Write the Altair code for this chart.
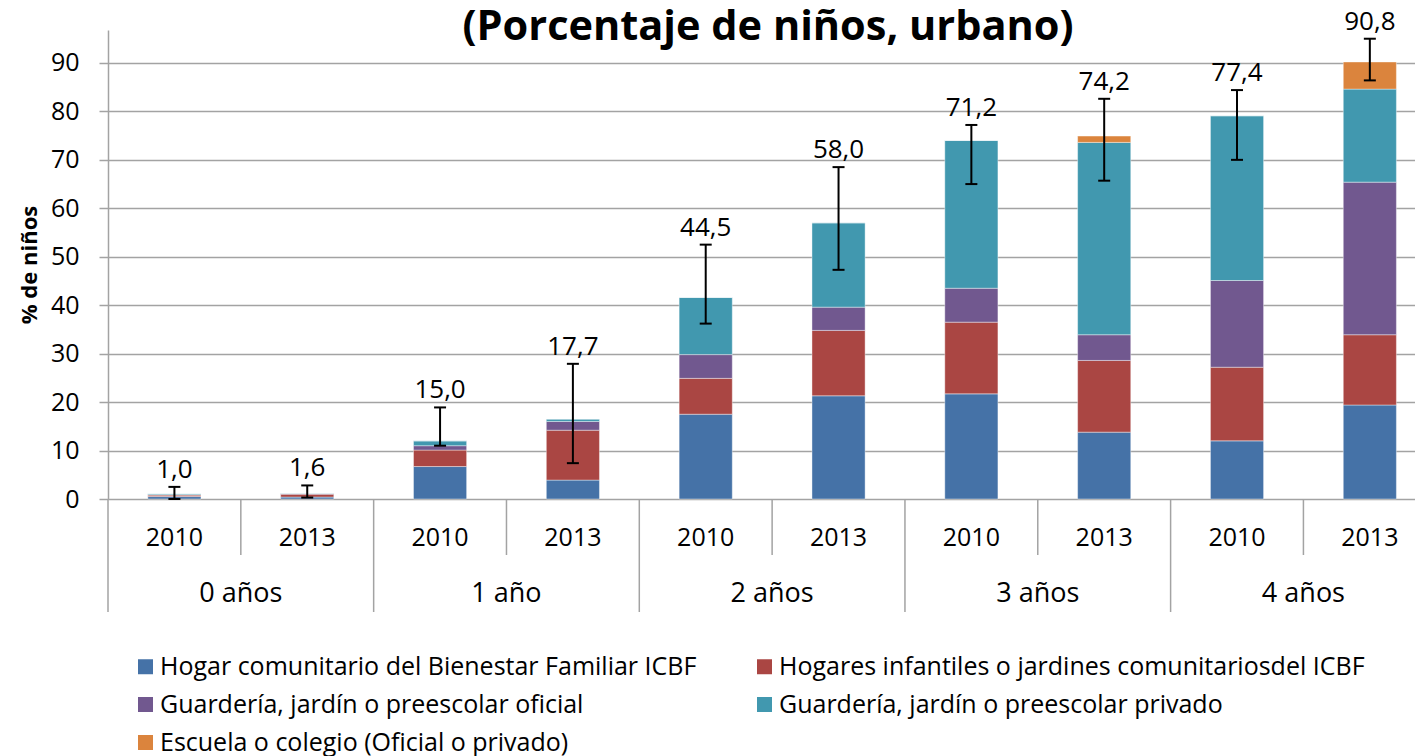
import altair as alt
import pandas as pd

TITLE = "(Porcentaje de niños, urbano)"
Y_TITLE = "% de niños"
AGES = ["0 años", "1 año", "2 años", "3 años", "4 años"]
YEARS = ["2010", "2013"]
SERIES = [
    "Hogar comunitario del Bienestar Familiar ICBF",
    "Hogares infantiles o jardines comunitariosdel ICBF",
    "Guardería, jardín o preescolar oficial",
    "Guardería, jardín o preescolar privado",
    "Escuela o colegio (Oficial o privado)",
]
COLORS = ["#4572A7", "#AA4643", "#71588F", "#4198AF", "#DB843D"]

# order of bars: 0 años 2010, 0 años 2013, 1 año 2010, ... 4 años 2013
HOGAR_COM = [0.5, 0.4, 6.7, 3.9, 17.5, 21.3, 21.7, 13.8, 12.0, 19.4]
HOGARES_INF = [0.3, 0.6, 3.4, 10.3, 7.4, 13.5, 14.8, 14.8, 15.2, 14.5]
OFICIAL = [0.1, 0.1, 0.9, 1.8, 4.9, 4.8, 7.0, 5.3, 17.9, 31.5]
PRIVADO = [0.2, 0.1, 1.0, 0.5, 11.8, 17.4, 30.5, 39.7, 34.0, 19.2]
ESCUELA = [0.0, 0.0, 0.0, 0.0, 0.0, 0.0, 0.0, 1.3, 0.0, 5.6]
TOTAL_LABELS = ["1,0", "1,6", "15,0", "17,7", "44,5", "58,0", "71,2", "74,2", "77,4", "90,8"]
ERR_LOW = [0.0, 0.3, 11.0, 7.4, 36.2, 47.3, 65.0, 65.7, 70.0, 86.4]
ERR_HIGH = [2.5, 2.8, 18.9, 27.9, 52.5, 68.5, 77.2, 82.6, 84.4, 95.0]
Y_TICKS = [0, 10, 20, 30, 40, 50, 60, 70, 80, 90]

FONT = "Open Sans"
BAR_FRAC = 0.4
W, H = 1307, 469
XMAX = 9.84
YMAX = 96.8
GRID = "#a3a3a3"

series_vals = [HOGAR_COM, HOGARES_INF, OFICIAL, PRIVADO, ESCUELA]
n = len(TOTAL_LABELS)

rows = []
for s, (name, vals) in enumerate(zip(SERIES, series_vals)):
    for i, v in enumerate(vals):
        rows.append({"idx": i, "series": name, "order": s, "value": v,
                     "x0": i + (1 - BAR_FRAC) / 2, "x1": i + (1 + BAR_FRAC) / 2})
bars_df = pd.DataFrame(rows)

err_df = pd.DataFrame({
    "c": [i + 0.5 for i in range(n)],
    "lo": ERR_LOW, "hi": ERR_HIGH, "label": TOTAL_LABELS,
})

year_df = pd.DataFrame({
    "c": [i + 0.5 for i in range(n)],
    "year": [YEARS[i % 2] for i in range(n)],
})
age_df = pd.DataFrame({"c": [2 * g + 1 for g in range(len(AGES))], "age": AGES})
long_df = pd.DataFrame({"b": [2 * g for g in range(len(AGES))]})
short_df = pd.DataFrame({"b": [2 * g + 1 for g in range(len(AGES))]})
title_df = pd.DataFrame({"t": [TITLE]})

# legend is laid out column by column: put items so rows read like the reference
legend_order = [SERIES[0], SERIES[2], SERIES[4], SERIES[1], SERIES[3]]
legend_colors = [COLORS[SERIES.index(s)] for s in legend_order]

xs = alt.Scale(domain=[0, XMAX], nice=False, zero=False)
ys = alt.Scale(domain=[0, YMAX], nice=False)

bars = alt.Chart(bars_df).transform_stack(
    stack="value", groupby=["idx"], as_=["y0", "y1"],
    sort=[alt.SortField("order", "ascending")],
).mark_bar(stroke="white", strokeWidth=0.8, strokeOpacity=0.5).encode(
    x=alt.X("x0:Q", scale=xs, axis=None),
    x2="x1:Q",
    y=alt.Y("y0:Q", scale=ys, title=Y_TITLE,
            axis=alt.Axis(values=Y_TICKS, grid=True, gridColor=GRID, gridWidth=1.5,
                          tickColor=GRID, tickWidth=1.5, tickSize=9,
                          domainColor=GRID, domainWidth=1.5,
                          labelFont=FONT, labelFontSize=25, labelColor="black",
                          labelPadding=20, titleFont=FONT, titleFontSize=22,
                          titleFontWeight="bold", titleColor="black", titlePadding=9)),
    y2="y1:Q",
    color=alt.Color("series:N", scale=alt.Scale(domain=legend_order, range=legend_colors),
                    sort=legend_order,
                    legend=alt.Legend(title=None, orient="none", legendX=25, legendY=624,
                                      columns=2, symbolType="square", symbolSize=225,
                                      symbolStrokeWidth=0, labelFont=FONT, labelFontSize=25,
                                      labelColor="black", labelLimit=1000, labelOffset=2,
                                      rowPadding=12, columnPadding=55, padding=0)),
)

err_v = alt.Chart(err_df).mark_rule(color="black", strokeWidth=2).encode(
    x=alt.X("c:Q", scale=xs, axis=None), y=alt.Y("lo:Q", scale=ys), y2="hi:Q")
cap_hi = alt.Chart(err_df).mark_rule(color="black", strokeWidth=2, xOffset=-6, x2Offset=6).encode(
    x=alt.X("c:Q", scale=xs, axis=None), x2="c:Q", y=alt.Y("hi:Q", scale=ys))
cap_lo = alt.Chart(err_df).mark_rule(color="black", strokeWidth=2, xOffset=-6, x2Offset=6).encode(
    x=alt.X("c:Q", scale=xs, axis=None), x2="c:Q", y=alt.Y("lo:Q", scale=ys))
totals = alt.Chart(err_df).mark_text(font=FONT, fontSize=26, color="black",
                                     baseline="middle", dy=-17).encode(
    x=alt.X("c:Q", scale=xs, axis=None), y=alt.Y("hi:Q", scale=ys), text="label:N")

long_rules = alt.Chart(long_df).mark_rule(color=GRID, strokeWidth=1.5).encode(
    x=alt.X("b:Q", scale=xs, axis=None), y=alt.value(H), y2=alt.value(H + 113))
short_rules = alt.Chart(short_df).mark_rule(color=GRID, strokeWidth=1.5).encode(
    x=alt.X("b:Q", scale=xs, axis=None), y=alt.value(H), y2=alt.value(H + 56))
years = alt.Chart(year_df).mark_text(font=FONT, fontSize=25, color="black",
                                     baseline="middle").encode(
    x=alt.X("c:Q", scale=xs, axis=None), y=alt.value(H + 39), text="year:N")
ages = alt.Chart(age_df).mark_text(font=FONT, fontSize=27, color="black",
                                   baseline="middle").encode(
    x=alt.X("c:Q", scale=xs, axis=None), y=alt.value(H + 95), text="age:N")
title = alt.Chart(title_df).mark_text(font=FONT, fontSize=41.5, fontWeight="bold",
                                      color="black", baseline="alphabetic").encode(
    text="t:N", x=alt.value(660), y=alt.value(10))

chart = alt.layer(
    bars, long_rules, short_rules, err_v, cap_hi, cap_lo, totals, years, ages, title
).properties(
    width=W, height=H,
    padding={"left": 100, "top": 22, "right": 0, "bottom": 257},
    autosize=alt.AutoSizeParams(type="none"),
).configure_view(stroke=None)

chart.save("out.html", embed_options={"renderer": "svg", "actions": False})
